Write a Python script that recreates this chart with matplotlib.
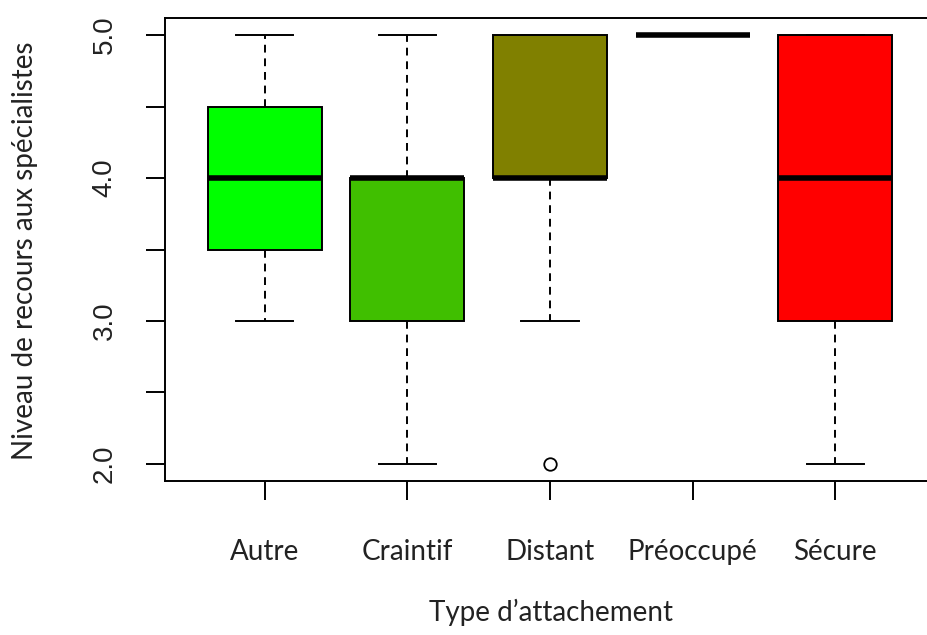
import matplotlib
matplotlib.use("Agg")
import matplotlib.pyplot as plt

categories = ["Autre", "Craintif", "Distant", "Préoccupé", "Sécure"]
whislo = [3.0, 2.0, 3.0, 5.0, 2.0]
q1 = [3.5, 3.0, 4.0, 5.0, 3.0]
med = [4.0, 4.0, 4.0, 5.0, 4.0]
q3 = [4.5, 4.0, 5.0, 5.0, 5.0]
whishi = [5.0, 5.0, 5.0, 5.0, 5.0]
outliers = [[], [], [2.0], [], []]
colors = ["#00ff00", "#40bf00", "#808000", "#bf4000", "#ff0000"]

stats = []
for i, name in enumerate(categories):
    stats.append(dict(label=name, whislo=whislo[i], q1=q1[i], med=med[i],
                      q3=q3[i], whishi=whishi[i], fliers=outliers[i]))

fig = plt.figure(figsize=(9.28, 6.35), dpi=100)
ax = fig.add_axes([165 / 928, 154 / 635, 770 / 928, 463 / 635])

bp = ax.bxp(stats, positions=range(1, 6), widths=0.8, patch_artist=True,
            boxprops=dict(linewidth=1.4, edgecolor="black"),
            medianprops=dict(color="black", linewidth=4, solid_capstyle="butt"),
            whiskerprops=dict(color="black", linewidth=1.4, linestyle=(0, (4, 3))),
            capprops=dict(color="black", linewidth=1.4),
            flierprops=dict(marker="o", markersize=9, markerfacecolor="white",
                            markeredgecolor="black", markeredgewidth=1.3),
            capwidths=0.4)
for patch, c in zip(bp["boxes"], colors):
    patch.set_facecolor(c)

ax.set_xlim(0.3, 5.7)
ax.set_ylim(1.88, 5.12)

ax.set_yticks([2.0, 2.5, 3.0, 3.5, 4.0, 4.5, 5.0])
ax.set_yticklabels(["2.0", "", "3.0", "", "4.0", "", "5.0"], rotation=90,
                   va="center", fontsize=20, family="Liberation Sans", color="#222222")
ax.set_xticks(range(1, 6))
ax.set_xticklabels(categories, fontsize=20, family="Lato", color="#222222")
ax.tick_params(axis="y", length=14, width=1.4, pad=20)
ax.tick_params(axis="x", length=14, width=1.4, pad=28)

for s in ["left", "top", "bottom", "right"]:
    ax.spines[s].set_linewidth(1.4)

fig.text(25 / 928, 1 - 251 / 635, "Niveau de recours aux spécialistes", rotation=90,
         ha="center", va="center", fontsize=20, family="Lato", color="#222222")
fig.text(551 / 928, 1 - 612 / 635, "Type d\u2019attachement",
         ha="center", va="center", fontsize=20, family="Lato", color="#222222")

fig.savefig("out.png", dpi=100)
